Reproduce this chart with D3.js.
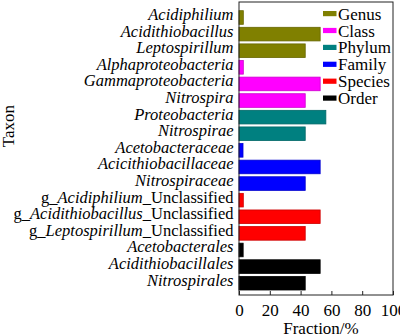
<!DOCTYPE html>
<html>
<head>
<meta charset="utf-8">
<script src="https://cdn.jsdelivr.net/npm/d3@7"></script>
<style>
  html, body { margin: 0; padding: 0; background: #fff; }
  svg { display: block; }
</style>
</head>
<body>
<svg id="chart" width="400" height="334" font-family="Liberation Serif, DejaVu Serif, serif"></svg>
<script>
// Taxa, top to bottom; pre/name/post split so the genus names can be italic
const taxa = [
  ["", "Acidiphilium", ""],
  ["", "Acidithiobacillus", ""],
  ["", "Leptospirillum", ""],
  ["", "Alphaproteobacteria", ""],
  ["", "Gammaproteobacteria", ""],
  ["", "Nitrospira", ""],
  ["", "Proteobacteria", ""],
  ["", "Nitrospirae", ""],
  ["", "Acetobacteraceae", ""],
  ["", "Acicithiobacillaceae", ""],
  ["", "Nitrospiraceae", ""],
  ["g_", "Acidiphilium", "_Unclassified"],
  ["g_", "Acidithiobacillus", "_Unclassified"],
  ["g_", "Leptospirillum", "_Unclassified"],
  ["", "Acetobacterales", ""],
  ["", "Acidithiobacillales", ""],
  ["", "Nitrospirales", ""]
];
const fractions = [2.8, 52.7, 43.0, 2.8, 52.7, 43.0, 56.4, 43.0, 2.6, 52.7, 43.0, 2.8, 52.7, 43.0, 2.7, 52.7, 43.0];
const levels = ["Genus", "Genus", "Genus", "Class", "Class", "Class", "Phylum", "Phylum",
                "Family", "Family", "Family", "Species", "Species", "Species", "Order", "Order", "Order"];
const legendLevels = ["Genus", "Class", "Phylum", "Family", "Species", "Order"];
const levelColors = ["#808000", "#ff00ff", "#008080", "#0000ff", "#ff0000", "#000000"];
const xTicks = [0, 20, 40, 60, 80, 100];

const FONT = "Liberation Serif, DejaVu Serif, serif";
const svg = d3.select("#chart");
const frame = { left: 239, right: 393, top: 2, bottom: 295 };

const x = d3.scaleLinear().domain([0, 100]).range([frame.left, frame.right]);
const y = d3.scaleBand().domain(d3.range(taxa.length)).range([9.2, 291.5])
  .paddingInner(0.18).paddingOuter(0.09);
const color = d3.scaleOrdinal().domain(legendLevels).range(levelColors);

// bars
svg.append("g").selectAll("rect").data(fractions).join("rect")
  .attr("x", x(0))
  .attr("y", (d, i) => y(i))
  .attr("width", d => x(d) - x(0))
  .attr("height", y.bandwidth())
  .attr("fill", (d, i) => color(levels[i]))
  .attr("stroke", (d, i) => d3.color(color(levels[i])).darker(0.6))
  .attr("stroke-width", 0.8);

// plot frame
svg.append("rect")
  .attr("x", frame.left).attr("y", frame.top)
  .attr("width", frame.right - frame.left).attr("height", frame.bottom - frame.top)
  .attr("fill", "none").attr("stroke", "#222").attr("stroke-width", 1);

// bottom axis with inward ticks
const xAxis = d3.axisBottom(x).tickValues(xTicks).tickSizeInner(-4).tickSizeOuter(0).tickPadding(9);
const gx = svg.append("g").attr("transform", `translate(0,${frame.bottom})`).call(xAxis)
  .attr("font-family", FONT).attr("font-size", 17);
gx.select(".domain").remove();
gx.selectAll("line").attr("stroke", "#222");
gx.selectAll("text").attr("fill", "#000");

// taxon labels
const labels = svg.append("g").attr("font-family", FONT).attr("font-size", 16.5)
  .selectAll("text").data(taxa).join("text")
  .attr("x", 233.5)
  .attr("y", (d, i) => y(i) + y.bandwidth() / 2 + 2.5)
  .attr("text-anchor", "end");
labels.each(function(d) {
  const t = d3.select(this);
  if (d[0]) t.append("tspan").text(d[0]);
  t.append("tspan").attr("font-style", "italic").text(d[1]);
  if (d[2]) t.append("tspan").text(d[2]);
});

// legend
const legend = svg.append("g").attr("font-family", FONT).attr("font-size", 17)
  .selectAll("g").data(legendLevels).join("g")
  .attr("transform", (d, i) => `translate(323,${13.6 + i * 16.9})`);
legend.append("rect")
  .attr("x", 0).attr("y", -2.6).attr("width", 13.5).attr("height", 5.2)
  .attr("fill", d => color(d));
legend.append("text")
  .attr("x", 15).attr("y", 6)
  .text(d => d);

// axis titles
svg.append("text")
  .attr("x", 321).attr("y", 333.5)
  .attr("text-anchor", "middle")
  .attr("font-family", FONT).attr("font-size", 17)
  .text("Fraction/%");
svg.append("text")
  .attr("transform", "translate(13.5,126) rotate(-90)")
  .attr("text-anchor", "middle")
  .attr("font-family", FONT).attr("font-size", 17)
  .text("Taxon");
</script>
</body>
</html>
